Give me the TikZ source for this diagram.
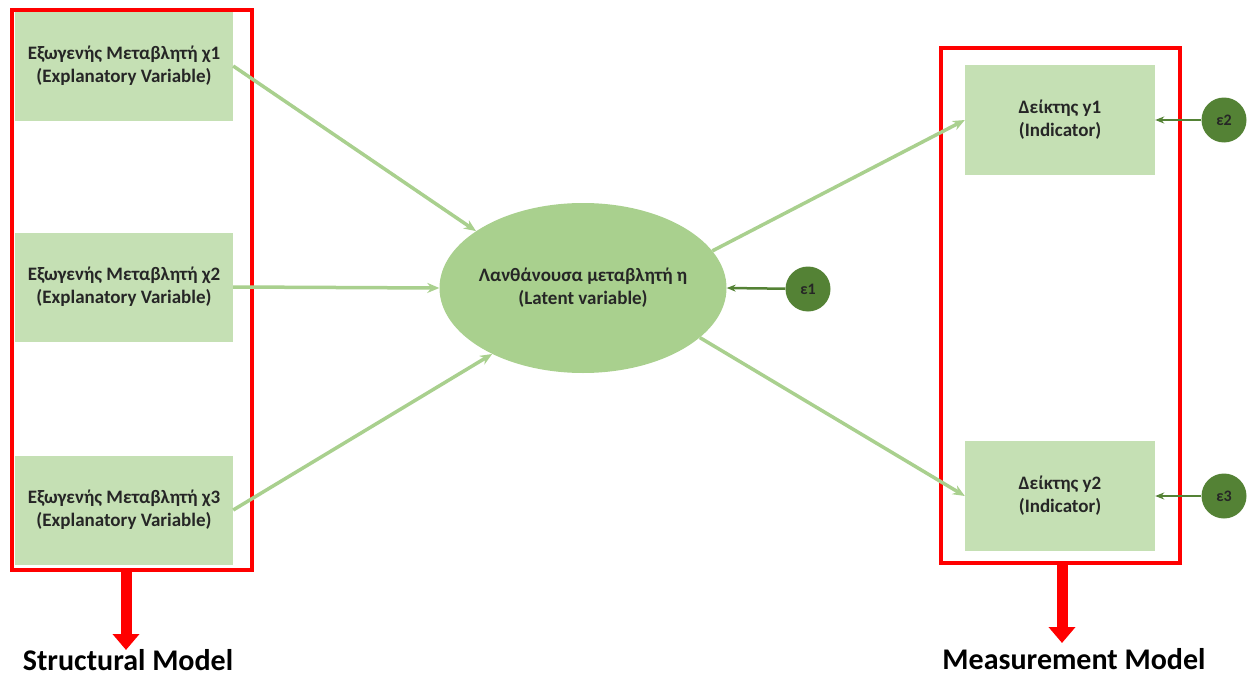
\documentclass[tikz,border=0pt]{standalone}
\usepackage{fontspec}
\setmainfont{Carlito}
\usetikzlibrary{arrows.meta,shapes.geometric}
\definecolor{boxfill}{HTML}{C5E0B4}
\definecolor{latfill}{HTML}{A9D08E}
\definecolor{linkgreen}{HTML}{A9D08E}
\definecolor{errfill}{HTML}{548235}
\definecolor{errline}{HTML}{548235}
\definecolor{frame}{HTML}{FF0000}
\tikzset{
  varbox/.style={draw=none, fill=boxfill, minimum width=218pt, minimum height=109pt,
    align=center, font=\fontsize{19}{23}\selectfont\bfseries, text=black!85},
  indbox/.style={draw=none, fill=boxfill, minimum width=190pt, minimum height=110pt,
    align=center, font=\fontsize{19}{23}\selectfont\bfseries, text=black!85},
  latent/.style={ellipse, fill=latfill, minimum width=287pt, minimum height=170pt, inner sep=0pt},
  latenttext/.style={align=center, font=\fontsize{19}{23}\selectfont\bfseries, text=black!85},
  errnode/.style={circle, fill=errfill, minimum size=45pt, inner sep=0pt,
    font=\fontsize{16}{19}\selectfont\bfseries, text=black!85},
  link/.style={draw=linkgreen, line width=3.5pt, -{Stealth[length=12pt,width=10pt]}},
  errlink/.style={draw=errline, line width=2.5pt, -{Stealth[length=9pt,width=7pt]}},
  group/.style={draw=frame, line width=3.5pt},
  pointer/.style={draw=frame, line width=11pt, -{Triangle[length=16pt,width=26pt]}},
  caption/.style={font=\fontsize{30}{34}\selectfont\bfseries, text=black, inner sep=1pt}
}
\begin{document}
\begin{tikzpicture}[x=1pt,y=-1pt]
  \useasboundingbox (0,0) rectangle (1248,677);
  % exogenous variables
  \node[varbox] (x1) at (124,66) {Εξωγενής Μεταβλητή χ1\\(Explanatory Variable)};
  \node[varbox] (x2) at (124,287) {Εξωγενής Μεταβλητή χ2\\(Explanatory Variable)};
  \node[varbox] (x3) at (124,510) {Εξωγενής Μεταβλητή χ3\\(Explanatory Variable)};
  % latent variable and its error
  \node[latent] (eta) at (583,288) {};
  \node[latenttext] (etatext) at (eta.center) {Λανθάνουσα μεταβλητή η\\(Latent variable)};
  \node[errnode] (e1) at (808,289) {ε1};
  % indicators and their errors
  \node[indbox] (y1) at (1060,120) {Δείκτης y1\\(Indicator)};
  \node[indbox] (y2) at (1060,496) {Δείκτης y2\\(Indicator)};
  \node[errnode] (e2) at (1224,120) {ε2};
  \node[errnode] (e3) at (1224,496) {ε3};
  % group frames
  \node[group, minimum width=240pt, minimum height=560pt, inner sep=0pt] (sm) at (132,290) {};
  \node[group, minimum width=239pt, minimum height=515pt, inner sep=0pt] (mm) at (1060.5,305.5) {};
  % structural paths
  \draw[link] (x1.east) -- (eta.152);
  \draw[link] (x2.east) -- (eta.west);
  \draw[link] (x3.east) -- (eta.216);
  % measurement paths
  \draw[link] (eta.16) -- (y1.west);
  \draw[link] (eta.-23) -- (y2.west);
  % error paths
  \draw[errlink] (e1) -- (eta.east);
  \draw[errlink] (e2) -- (y1.east);
  \draw[errlink] (e3) -- (y2.east);
  % pointers to captions
  \coordinate (c1) at (126,650);
  \coordinate (c2) at (1062,643);
  \draw[pointer] (sm.south -| c1) -- (c1);
  \draw[pointer] (mm.south -| c2) -- (c2);
  \node[caption] (t1) at (128,660) {Structural Model};
  \node[caption] (t2) at (1074,659) {Measurement Model};
\end{tikzpicture}
\end{document}
